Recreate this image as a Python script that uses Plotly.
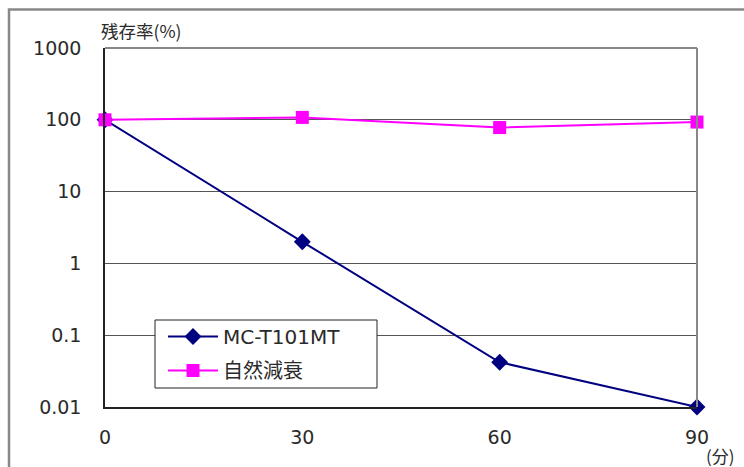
import plotly.graph_objects as go

minutes = [0, 30, 60, 90]
mc_t101mt = [100, 2, 0.042, 0.01]
natural_decay = [100, 108, 78, 93]
y_ticks = [0.01, 0.1, 1, 10, 100, 1000]
y_ticktext = ["0.01", "0.1", "1", "10", "100", "1000"]
x_ticks = [0, 30, 60, 90]

FONT = "DejaVu Sans, Noto Sans CJK JP, sans-serif"
JFONT = "Noto Sans CJK JP, DejaVu Sans, sans-serif"
TXT = "#2a2a2a"

fig = go.Figure()
fig.add_trace(go.Scatter(
    x=minutes, y=mc_t101mt, name="MC-T101MT", mode="lines+markers",
    line=dict(color="#000080", width=2),
    marker=dict(symbol="diamond", size=13, color="#000080"),
    cliponaxis=False, legendgroup="a",
))
fig.add_trace(go.Scatter(
    x=minutes, y=natural_decay, name="自然減衰", mode="lines+markers",
    line=dict(color="#FF00FF", width=2),
    marker=dict(symbol="square", size=13, color="#FF00FF"),
    cliponaxis=False, legendgroup="b",
))

W, H = 744, 467
L, R, T, B = 105, 697, 48, 407
pw, ph = R - L, B - T

def px(x):
    return (x - L) / pw

def py(y):
    return (B - y) / ph

fig.update_layout(
    width=W, height=H,
    margin=dict(l=L, r=W - R, t=T, b=H - B, pad=0),
    paper_bgcolor="white", plot_bgcolor="white",
    font=dict(family=FONT, size=19, color=TXT),
    showlegend=True,
    legend=dict(
        x=px(163), y=py(317), xanchor="left", yanchor="top",
        bgcolor="rgba(0,0,0,0)", borderwidth=0,
        font=dict(family=FONT, size=20, color=TXT),
        traceorder="grouped", tracegroupgap=5,
        itemwidth=50,
    ),
    xaxis=dict(
        range=[0, 90], tickvals=x_ticks, ticks="", showgrid=False,
        showline=True, linecolor="#222222", linewidth=1.5, zeroline=False,
        ticklabelstandoff=12, tickfont=dict(family=FONT, size=19, color=TXT),
    ),
    yaxis=dict(
        type="log", range=[-2, 3], tickvals=y_ticks, ticktext=y_ticktext,
        ticks="", showgrid=True, gridcolor="#555555", gridwidth=1,
        showline=True, linecolor="#222222", linewidth=1.5, zeroline=False,
        ticklabelstandoff=18, tickfont=dict(family=FONT, size=19, color=TXT),
    ),
    shapes=[
        dict(type="rect", xref="paper", yref="paper",
             x0=px(9), x1=px(760), y0=py(490), y1=py(9.5),
             line=dict(color="#888888", width=2.5), layer="below"),
        dict(type="line", xref="paper", yref="paper", x0=1, x1=1, y0=0, y1=1,
             line=dict(color="#888888", width=2)),
        dict(type="line", xref="paper", yref="paper", x0=0, x1=1, y0=1, y1=1,
             line=dict(color="#888888", width=2)),
        dict(type="rect", xref="paper", yref="paper",
             x0=px(155), x1=px(377), y0=py(388), y1=py(320),
             fillcolor="white", line=dict(color="#222222", width=1), layer="above"),
    ],
    annotations=[
        dict(text="残存率(%)", xref="paper", yref="paper", x=px(99), y=py(30),
             xanchor="left", yanchor="middle", showarrow=False,
             font=dict(family=JFONT, size=17.5, color=TXT)),
        dict(text="(分)", xref="paper", yref="paper", x=px(704), y=py(455),
             xanchor="left", yanchor="middle", showarrow=False,
             font=dict(family=JFONT, size=17, color=TXT)),
    ],
)

fig.write_html(
    "out.html",
    config={"displayModeBar": False},
    post_script="document.body.style.margin='0';document.body.style.overflow='hidden';",
)
